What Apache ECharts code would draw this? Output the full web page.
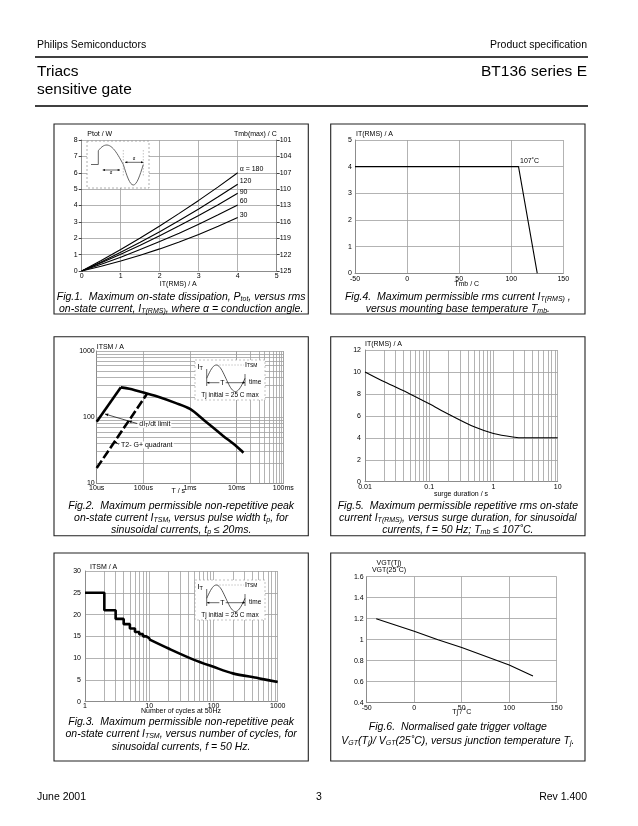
<!DOCTYPE html>
<html><head><meta charset="utf-8">
<script src="https://cdn.jsdelivr.net/npm/echarts@6/dist/echarts.min.js"></script>
<style>html,body{margin:0;padding:0;background:#fff}#c{width:638px;height:826px}</style>
</head><body><div id="c"></div>
<script>
// ---------- DATA ----------
// Fig.1  Ptot vs IT(RMS) for conduction angles
const fig1Current = [0, 0.5, 1, 1.5, 2, 2.5, 3, 3.5, 4];
const fig1P180 = [0, 0.64, 1.31, 2.02, 2.75, 3.52, 4.31, 5.14, 6.0];
const fig1P120 = [0, 0.55, 1.14, 1.75, 2.40, 3.08, 3.79, 4.53, 5.30];
const fig1P90  = [0, 0.50, 1.02, 1.57, 2.15, 2.76, 3.39, 4.05, 4.75];
const fig1P60  = [0, 0.41, 0.84, 1.31, 1.80, 2.31, 2.86, 3.43, 4.03];
const fig1P30  = [0, 0.29, 0.61, 0.96, 1.35, 1.77, 2.23, 2.73, 3.26];
const fig1Names = ['\u03b1 = 180', '120', '90', '60', '30'];
const fig1TmbTop = 125, fig1TmbStep = 3;
// Fig.4  IT(RMS) vs Tmb
const fig4Tmb = [-50, 107, 125];
const fig4Current = [4, 4, 0];
const fig4BreakLabel = '107\u02daC';
// Fig.2  ITSM vs pulse width
const fig2DidtT = [1e-5, 3.3e-5];
const fig2DidtI = [85, 282];
const fig2MainT = [3.3e-5, 5e-5, 1e-4, 2e-4, 5e-4, 1e-3, 2e-3, 5e-3, 1e-2, 1.4e-2];
const fig2MainI = [282, 268, 236, 205, 163, 133, 90, 53, 36, 29];
const fig2QuadT = [1e-5, 1.2e-4];
const fig2QuadI = [17, 225];
const fig2XLabels = ['10us', '100us', '1ms', '10ms', '100ms'];
// Fig.5  IT(RMS) vs surge duration
const fig5Dur = [0.01, 0.02, 0.05, 0.1, 0.2, 0.5, 1, 2, 3, 5, 10];
const fig5Current = [10, 9.1, 8.0, 7.1, 6.15, 5.0, 4.4, 4.08, 4.0, 4.0, 4.0];
// Fig.3  ITSM vs number of cycles
const fig3StepCycles = [1, 2, 3, 4, 5, 6, 7, 8, 9, 10];
const fig3StepI = [25, 21, 19, 17.8, 16.8, 16.0, 15.5, 15.0, 14.6, 14.3];
const fig3CurveCycles = [10, 20, 50, 100, 200, 500, 1000];
const fig3CurveI = [14.3, 12.2, 9.6, 8.0, 6.5, 5.4, 4.5];
// Fig.6  VGT(Tj)/VGT(25C) vs Tj
const fig6Tj = [-40, 0, 25, 50, 100, 125];
const fig6Ratio = [1.2, 1.08, 1.0, 0.925, 0.76, 0.655];

// ---------- STYLE ----------
const FONT = '"Liberation Sans", Arial, Helvetica, sans-serif';
const GRID_C = '#a0a0a0';
const AXIS_C = '#8c8c8c';
const zip = (a, b) => a.map((v, i) => [v, b[i]]);

function axisBase(o) {
  return Object.assign({
    axisLine: {show: true, onZero: false, lineStyle: {color: AXIS_C, width: 1}},
    axisTick: {show: false},
    axisLabel: {fontSize: 7, color: '#000', fontFamily: FONT, margin: 3},
    splitLine: {show: true, lineStyle: {color: GRID_C, width: 0.8}},
    minorTick: {show: false}, minorSplitLine: {show: false}
  }, o);
}
const lab = (m, extra) => Object.assign({fontSize: 7, fontFamily: FONT, color: '#000', margin: m}, extra || {});

const grids = [
  {left: 81.7, top: 140, width: 195, height: 131},      // fig1
  {left: 355, top: 140, width: 208.3, height: 133.3},   // fig4
  {left: 96.7, top: 351, width: 186.6, height: 132.3},  // fig2
  {left: 365, top: 350, width: 192.7, height: 131.7},   // fig5
  {left: 85, top: 571, width: 192.7, height: 130.7},    // fig3
  {left: 366.7, top: 576.7, width: 190, height: 126}    // fig6
];

const xAxes = [
  axisBase({gridIndex: 0, type: 'value', min: 0, max: 5, interval: 1, axisLabel: lab(2)}),
  axisBase({gridIndex: 1, type: 'value', min: -50, max: 150, interval: 50, axisLabel: lab(2)}),
  axisBase({gridIndex: 2, type: 'log', logBase: 10, min: 1e-5, max: 0.1,
    axisLabel: lab(1, {formatter: v => fig2XLabels[Math.round(Math.log10(v)) + 5]})}),
  axisBase({gridIndex: 3, type: 'log', logBase: 10, min: 0.01, max: 10,
    axisLabel: lab(2, {formatter: v => String(+v.toPrecision(3))})}),
  axisBase({gridIndex: 4, type: 'log', logBase: 10, min: 1, max: 1000,
    axisLabel: lab(1, {formatter: v => String(Math.round(v))})}),
  axisBase({gridIndex: 5, type: 'value', min: -50, max: 150, interval: 50, axisLabel: lab(2)})
];
const yAxes = [
  axisBase({gridIndex: 0, type: 'value', min: 0, max: 8, interval: 1, axisTick: {show: true, length: 3, lineStyle: {color: '#444'}}, axisLabel: lab(4)}),
  axisBase({gridIndex: 0, type: 'value', position: 'right', min: 0, max: 8, interval: 1, splitLine: {show: false},
    axisTick: {show: true, length: 3, lineStyle: {color: '#444'}},
    axisLabel: lab(3, {formatter: v => String(fig1TmbTop - fig1TmbStep * v)})}),
  axisBase({gridIndex: 1, type: 'value', min: 0, max: 5, interval: 1}),
  axisBase({gridIndex: 2, type: 'log', logBase: 10, min: 10, max: 1000, axisLabel: lab(2, {formatter: v => String(Math.round(v))})}),
  axisBase({gridIndex: 3, type: 'value', min: 0, max: 12, interval: 2, axisLabel: lab(4)}),
  axisBase({gridIndex: 4, type: 'value', min: 0, max: 30, interval: 5, axisLabel: lab(4)}),
  axisBase({gridIndex: 5, type: 'value', min: 0.4, max: 1.6, interval: 0.2, axisLabel: lab(3, {formatter: v => String(+v.toFixed(1))})})
];

// minor log grid lines (2..9 per decade)
function minorLines(key, k0, k1) {
  const out = [];
  for (let k = k0; k < k1; k++) for (let m = 2; m <= 9; m++) out.push({[key]: m * Math.pow(10, k)});
  return out;
}
function gridSeries(xi, yi, lines) {
  return {type: 'line', xAxisIndex: xi, yAxisIndex: yi, data: [], silent: true, z: 1,
    markLine: {silent: true, symbol: 'none', animation: false, label: {show: false},
      lineStyle: {color: GRID_C, width: 0.8, type: 'solid'}, emphasis: {disabled: true}, data: lines}};
}

const thin = {color: '#000', width: 1.1};
const thick = {color: '#000', width: 2.6};
function lineS(xi, yi, data, ls, extra) {
  return Object.assign({type: 'line', xAxisIndex: xi, yAxisIndex: yi, data: data, symbol: 'none',
    lineStyle: ls, silent: true, z: 5, animation: false}, extra || {});
}

const fig1Sets = [fig1P180, fig1P120, fig1P90, fig1P60, fig1P30];
const fig1Offsets = [[0, -4], [0, -3], [0, -1], [0, -4], [0, -3]];

const series = [];
fig1Sets.forEach((p, i) => {
  series.push(lineS(0, 0, zip(fig1Current, p), thin, {
    endLabel: {show: true, formatter: fig1Names[i], fontSize: 7, fontFamily: FONT, color: '#000', distance: 2, offset: fig1Offsets[i]}
  }));
});
series.push(lineS(1, 2, zip(fig4Tmb, fig4Current), thin));
series.push(gridSeries(2, 3, minorLines('xAxis', -5, -1).concat(minorLines('yAxis', 1, 3))));
series.push(lineS(2, 3, zip(fig2DidtT, fig2DidtI), thick));
series.push(lineS(2, 3, zip(fig2MainT, fig2MainI), thick, {smooth: 0.3}));
series.push(lineS(2, 3, zip(fig2QuadT, fig2QuadI), {color: '#000', width: 2.6, type: [9, 3]}));
series.push(gridSeries(3, 4, minorLines('xAxis', -2, 1)));
series.push(lineS(3, 4, zip(fig5Dur, fig5Current), thin, {smooth: 0.3}));
series.push(gridSeries(4, 5, minorLines('xAxis', 0, 3)));
series.push(lineS(4, 5, zip(fig3StepCycles, fig3StepI), thick, {step: 'end'}));
series.push(lineS(4, 5, zip(fig3CurveCycles, fig3CurveI), thick, {smooth: 0.3}));
series.push(lineS(5, 6, zip(fig6Tj, fig6Ratio), thin));

// ---------- GRAPHICS (frame, texts, insets) ----------
const g = [];
function txt(x, y, s, o) {
  o = o || {};
  g.push({type: 'text', x: x, y: y, silent: true, z: o.z || 10,
    style: Object.assign({text: s, fontSize: o.size || 7, fontFamily: FONT, fontStyle: o.italic ? 'italic' : 'normal',
      fill: '#000', align: o.align || 'left', verticalAlign: 'middle', lineHeight: o.lh || undefined,
      rich: {s: {fontSize: (o.sub || 5), fontFamily: FONT, fontStyle: o.italic ? 'italic' : 'normal', fill: '#000', verticalAlign: 'bottom', lineHeight: 4}},
      backgroundColor: o.bg, padding: o.bg ? [0, 1] : 0}, o.style || {})});
}
function line(pts, o) {
  o = o || {};
  g.push({type: 'polyline', silent: true, z: o.z || 10, shape: {points: pts},
    style: {stroke: o.color || '#000', lineWidth: o.w || 1, lineDash: o.dash || null, fill: null}});
}
function rect(x, y, w, h, o) {
  o = o || {};
  g.push({type: 'rect', silent: true, z: o.z || 10, shape: {x: x, y: y, width: w, height: h},
    style: {stroke: o.color || '#000', lineWidth: o.w || 1, lineDash: o.dash || null, fill: o.fill || null}});
}
function arrowHead(x1, y1, x2, y2, size) {
  const a = Math.atan2(y2 - y1, x2 - x1), s = size || 3;
  g.push({type: 'polygon', silent: true, z: 11, shape: {points: [[x2, y2],
    [x2 - s * Math.cos(a - 0.4), y2 - s * Math.sin(a - 0.4)], [x2 - s * Math.cos(a + 0.4), y2 - s * Math.sin(a + 0.4)]]},
    style: {fill: '#000'}});
}
function arrow(x1, y1, x2, y2, s) { line([[x1, y1], [x2, y2]], {w: 0.7}); arrowHead(x1, y1, x2, y2, s); }

// header / footer
txt(37, 45, 'Philips Semiconductors', {size: 10.5});
txt(587, 45, 'Product specification', {size: 10.5, align: 'right'});
line([[35, 57], [588, 57]], {w: 1.4});
txt(37, 72, 'Triacs', {size: 15.5});
txt(37, 90, 'sensitive gate', {size: 15.5});
txt(587, 72, 'BT136 series E', {size: 15.5, align: 'right'});
line([[35, 106], [588, 106]], {w: 1.4});
txt(37, 797, 'June 2001', {size: 10.5});
txt(319, 797, '3', {size: 10.5, align: 'center'});
txt(587, 797, 'Rev 1.400', {size: 10.5, align: 'right'});

// panels
const colX = [54, 330.7], colW = 254.3;
const rowY = [124, 336.7, 553], rowH = [190, 199, 208];
rowY.forEach((y, r) => colX.forEach(x => rect(x, y, colW, rowH[r], {w: 1.1, color: '#222', z: 2})));

// captions
function cap(cx, y0, lines, sp) {
  lines.forEach((s, i) => txt(cx, y0 + i * (sp || 12), s, {size: 10.5, sub: 7, italic: true, align: 'center'}));
}
const c1 = colX[0] + colW / 2, c2 = colX[1] + colW / 2;
cap(c1, 297, ['Fig.1.  Maximum on-state dissipation, P{s|tot}, versus rms', 'on-state current, I{s|T(RMS)}, where \u03b1 = conduction angle.']);
cap(c2, 297, ['Fig.4.  Maximum permissible rms current I{s|T(RMS)} ,', 'versus mounting base temperature T{s|mb}.']);
cap(c1, 506, ['Fig.2.  Maximum permissible non-repetitive peak', 'on-state current I{s|TSM}, versus pulse width t{s|p}, for', 'sinusoidal currents, t{s|p} \u2264 20ms.']);
cap(c2, 506, ['Fig.5.  Maximum permissible repetitive rms on-state', 'current I{s|T(RMS)}, versus surge duration, for sinusoidal', 'currents, f = 50 Hz; T{s|mb} \u2264 107\u02daC.']);
cap(c1, 722, ['Fig.3.  Maximum permissible non-repetitive peak', 'on-state current I{s|TSM}, versus number of cycles, for', 'sinusoidal currents, f = 50 Hz.'], 12.5);
cap(c2, 727, ['Fig.6.  Normalised gate trigger voltage', 'V{s|GT}(T{s|j})/ V{s|GT}(25\u02daC), versus junction temperature T{s|j}.'], 14);

// axis names
txt(87.3, 134.3, 'Ptot / W');
txt(276.7, 134.3, 'Tmb(max) / C', {align: 'right'});
txt(178.3, 284.3, 'IT(RMS) / A', {align: 'center'});
txt(356, 134.3, 'IT(RMS) / A');
txt(466.7, 284.3, 'Tmb / C', {align: 'center'});
txt(96.7, 347.5, 'ITSM / A');
txt(178.3, 491, 'T / s', {align: 'center'});
txt(365, 344.3, 'IT(RMS) / A');
txt(461, 494.3, 'surge duration / s', {align: 'center'});
txt(90, 567.5, 'ITSM / A');
txt(181, 710.7, 'Number of cycles at 50Hz', {align: 'center'});
txt(389, 563.3, 'VGT(Tj)', {align: 'center'});
txt(389, 570, 'VGT(25\u02daC)', {align: 'center'});
txt(461.7, 712, 'Tj / \u02daC', {align: 'center'});

// fig.2 annotations
txt(138.3, 424.3, 'dI{s|T}/dt limit', {bg: '#fff', sub: 5});
line([[137, 423.5], [105, 414]], {w: 0.7});
arrowHead(137, 423.5, 105, 414, 3.5);
arrowHead(137, 423.5, 128.5, 421, 3.5);
txt(120, 445, 'T2- G+ quadrant', {bg: '#fff'});
arrow(119, 444.3, 114.3, 441.7, 3);

// Fig.1 inset (phase-controlled sine)
(function () {
  const bx = 87, by = 141, bw = 62, bh = 47, y0 = 164.5;
  rect(bx, by, bw, bh, {color: '#999', w: 0.8, dash: [2, 2], fill: '#fff', z: 6});
  const pts = [[bx + 4, y0], [98.3, y0]];
  for (let i = 0; i <= 20; i++) { const x = 98.3 + i * (123.3 - 98.3) / 20; const ph = (x - 90) / 33.3 * Math.PI; pts.push([x, y0 - 19.5 * Math.sin(ph)]); }
  pts.splice(2, 0, [98.3, y0 - 19.5 * Math.sin((98.3 - 90) / 33.3 * Math.PI)]);
  for (let i = 1; i <= 16; i++) { const x = 123.3 + i * (143.3 - 123.3) / 16; pts.push([x, y0 + 20.5 * Math.sin((x - 123.3) / 20 * Math.PI)]); }
  line(pts, {w: 0.9, color: '#555', z: 7});
  line([[123.3, 150], [123.3, 176]], {w: 0.5, color: '#888', dash: [1.5, 1.5], z: 7});
  line([[143.3, 150], [143.3, 176]], {w: 0.5, color: '#888', dash: [1.5, 1.5], z: 7});
  line([[102.7, 170], [120, 170]], {w: 0.6, z: 7}); arrowHead(110, 170, 102.7, 170, 2.5); arrowHead(110, 170, 120, 170, 2.5);
  line([[125, 162.3], [143.3, 162.3]], {w: 0.6, z: 7}); arrowHead(134, 162.3, 125, 162.3, 2.5); arrowHead(134, 162.3, 143.3, 162.3, 2.5);
  txt(111, 172.5, '\u03b1', {size: 4.5, align: 'center', z: 8});
  txt(134, 159, '\u03b1', {size: 4.5, align: 'center', z: 8});
})();

// pulse inset for Fig.2 and Fig.3
function pulseInset(ox, oy) {
  rect(ox, oy, 70, 40, {color: '#aaa', w: 0.7, dash: [2, 2], fill: '#fff', z: 6});
  txt(ox + 2.5, oy + 7, 'I{s|T}', {size: 7.5, sub: 5.5, z: 8});
  line([[ox + 11.7, oy + 9], [ox + 11.7, oy + 26]], {w: 0.6, z: 7});
  const pts = [];
  for (let i = 0; i <= 40; i++) { const x = ox + 11.7 + i * 38.3 / 40; pts.push([x, oy + 18.3 - 13.3 * Math.sin((x - ox - 11.7) / 38.3 * 2 * Math.PI)]); }
  line(pts, {w: 0.9, color: '#444', z: 7});
  line([[ox + 21.3, oy + 5], [ox + 49, oy + 5]], {w: 0.5, color: '#888', dash: [1.5, 1.5], z: 7});
  txt(ox + 50, oy + 5, 'I{s|TSM}', {size: 7, sub: 5, z: 8});
  line([[ox + 50, oy + 14], [ox + 50, oy + 26]], {w: 0.6, z: 7});
  line([[ox + 12, oy + 22.7], [ox + 50, oy + 22.7]], {w: 0.6, z: 7});
  arrowHead(ox + 30, oy + 22.7, ox + 12, oy + 22.7, 2.5); arrowHead(ox + 30, oy + 22.7, ox + 50, oy + 22.7, 2.5);
  txt(ox + 27.5, oy + 22.7, 'T', {size: 7, align: 'center', bg: '#fff', z: 8});
  txt(ox + 54, oy + 22.7, 'time', {size: 6.5, z: 8});
  txt(ox + 35, oy + 35, 'Tj initial = 25 C max', {size: 6.5, align: 'center', z: 8});
}
pulseInset(195, 360);
pulseInset(195, 580);

const chart = echarts.init(document.getElementById('c'), null, {renderer: 'canvas', width: 638, height: 826});
const baseOption = {
  animation: false,
  backgroundColor: '#fff',
  textStyle: {fontFamily: FONT},
  grid: grids,
  xAxis: xAxes,
  yAxis: yAxes,
  series: series
};
chart.setOption(baseOption);
// Fig.4 break-point label placed through the axis scales
const bp = chart.convertToPixel({xAxisIndex: 1, yAxisIndex: 2}, [fig4Tmb[1], fig4Current[1]]);
txt(bp[0] + 1.5, bp[1] - 6, fig4BreakLabel);
chart.setOption({graphic: g});
</script></body></html>
